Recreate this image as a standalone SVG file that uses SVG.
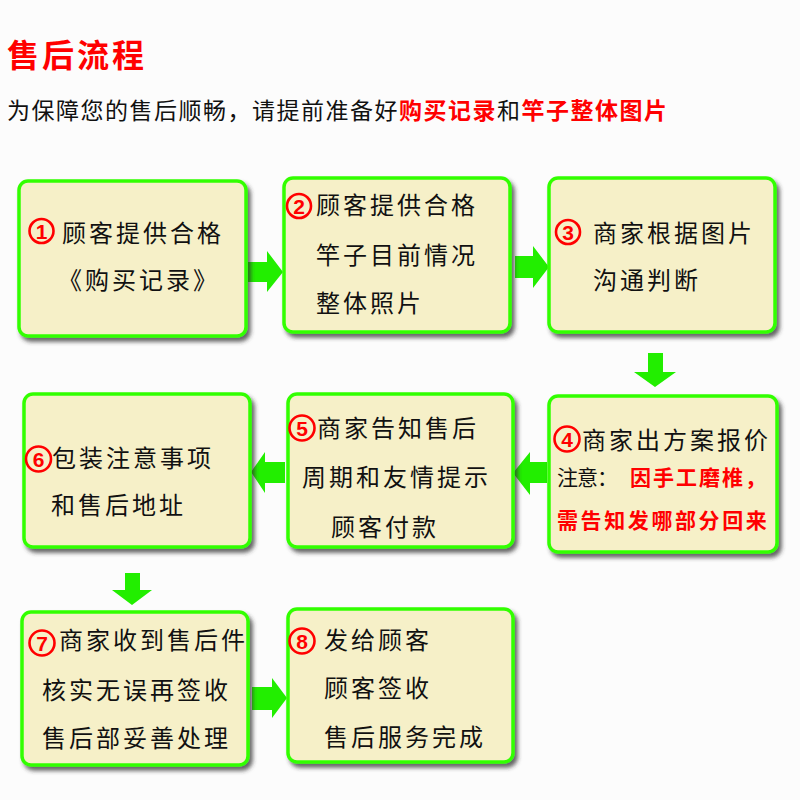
<svg xmlns="http://www.w3.org/2000/svg" width="800" height="800" viewBox="0 0 800 800">
<defs>
<filter id="sh" x="-10%" y="-10%" width="125%" height="125%">
<feDropShadow dx="3" dy="4" stdDeviation="2" flood-color="#333" flood-opacity="0.75"/>
</filter>
<style>
.box{fill:#f6f0c8;stroke:#33ff00;stroke-width:3.5;filter:url(#sh)}
.t{font-family:"Noto Sans CJK SC","Noto Sans",sans-serif;font-size:24px;fill:#111;letter-spacing:3px}
.s{font-family:"Noto Sans CJK SC","Noto Sans",sans-serif;font-size:21px;fill:#111}
.r{fill:#ff0000;font-weight:bold}
.nc{fill:none;stroke:#ff0000;stroke-width:2.6}
.nd{font-family:"Liberation Sans",Arial,sans-serif;font-size:21px;font-weight:bold;fill:#ff0000;text-anchor:middle}
.arr{fill:#22ee00}
</style>
</defs>
<rect width="800" height="800" fill="#fcfcfc"/>
<text x="7" y="67" font-family="'Noto Sans CJK SC',sans-serif" font-size="32" font-weight="bold" fill="#ff0000" letter-spacing="3">售后流程</text>
<text x="7" y="119" font-family="'Noto Sans CJK SC',sans-serif" font-size="23" fill="#111" letter-spacing="1.5">为保障您的售后顺畅，请提前准备好<tspan class="r">购买记录</tspan>和<tspan class="r">竿子整体图片</tspan></text>

<g id="connectors">
<polygon class="arr" points="248,262 267,262 267,251 283,272 267,292 267,282 248,282"/>
<polygon class="arr" points="515,256 533,256 533,246 549,267 533,288 533,278 515,278"/>
<polygon class="arr" points="648,353 663,353 663,372 676,372 655,387 634,372 648,372"/>
<polygon class="arr" points="547,462 530,462 530,452 513,473 530,495 530,483 547,483"/>
<polygon class="arr" points="285,462 265,462 265,452 251,472 265,493 265,483 285,483"/>
<polygon class="arr" points="125,573 140,573 140,590 152,590 132,605 112,590 125,590"/>
<polygon class="arr" points="252,687 272,687 272,678 287,698 272,718 272,710 252,710"/>
</g>

<g id="n1">
<rect class="box" x="19" y="181" width="227" height="155" rx="9"/>
<circle class="nc" cx="41.5" cy="231" r="12"/><text class="nd" x="41.5" y="238.5">1</text>
<text class="t" x="62" y="242">顾客提供合格</text>
<text class="t" x="58" y="289">《购买记录》</text>
</g>
<g id="n2">
<rect class="box" x="284" y="178" width="226" height="154" rx="9"/>
<circle class="nc" cx="299" cy="206" r="12"/><text class="nd" x="299" y="213.5">2</text>
<text class="t" x="316" y="214">顾客提供合格</text>
<text class="t" x="316" y="264">竿子目前情况</text>
<text class="t" x="316" y="312">整体照片</text>
</g>
<g id="n3">
<rect class="box" x="549" y="178" width="226" height="154" rx="9"/>
<circle class="nc" cx="568" cy="232" r="12"/><text class="nd" x="568" y="239.5">3</text>
<text class="t" x="593" y="242">商家根据图片</text>
<text class="t" x="593" y="289">沟通判断</text>
</g>
<g id="n4">
<rect class="box" x="549" y="396" width="228" height="156" rx="9"/>
<circle class="nc" cx="567" cy="439" r="12.5"/><text class="nd" x="567" y="446.5">4</text>
<text class="t" x="582" y="449" letter-spacing="3">商家出方案报价</text>
<text class="s" x="557" y="485" letter-spacing="-1">注意：<tspan class="r" x="630" letter-spacing="2">因手工磨椎，</tspan></text>
<text class="s r" x="557" y="528" letter-spacing="2.6">需告知发哪部分回来</text>
</g>
<g id="n5">
<rect class="box" x="288" y="394" width="225" height="153" rx="9"/>
<circle class="nc" cx="302" cy="428" r="12.5"/><text class="nd" x="302" y="435.5">5</text>
<text class="t" x="317" y="437">商家告知售后</text>
<text class="t" x="302" y="486">周期和友情提示</text>
<text class="t" x="331" y="536">顾客付款</text>
</g>
<g id="n6">
<rect class="box" x="24" y="394" width="226" height="153" rx="9"/>
<circle class="nc" cx="38.5" cy="459" r="12.5"/><text class="nd" x="38.5" y="466.5">6</text>
<text class="t" x="52" y="467">包装注意事项</text>
<text class="t" x="51" y="514">和售后地址</text>
</g>
<g id="n7">
<rect class="box" x="22" y="612" width="226" height="153" rx="9"/>
<circle class="nc" cx="42" cy="643" r="12.5"/><text class="nd" x="42" y="650.5">7</text>
<text class="t" x="59" y="649">商家收到售后件</text>
<text class="t" x="42" y="699">核实无误再签收</text>
<text class="t" x="42" y="747">售后部妥善处理</text>
</g>
<g id="n8">
<rect class="box" x="288" y="609" width="225" height="153" rx="9"/>
<circle class="nc" cx="302" cy="641" r="12.5"/><text class="nd" x="302" y="648.5">8</text>
<text class="t" x="324" y="649">发给顾客</text>
<text class="t" x="324" y="697">顾客签收</text>
<text class="t" x="324" y="746">售后服务完成</text>
</g>
</svg>
